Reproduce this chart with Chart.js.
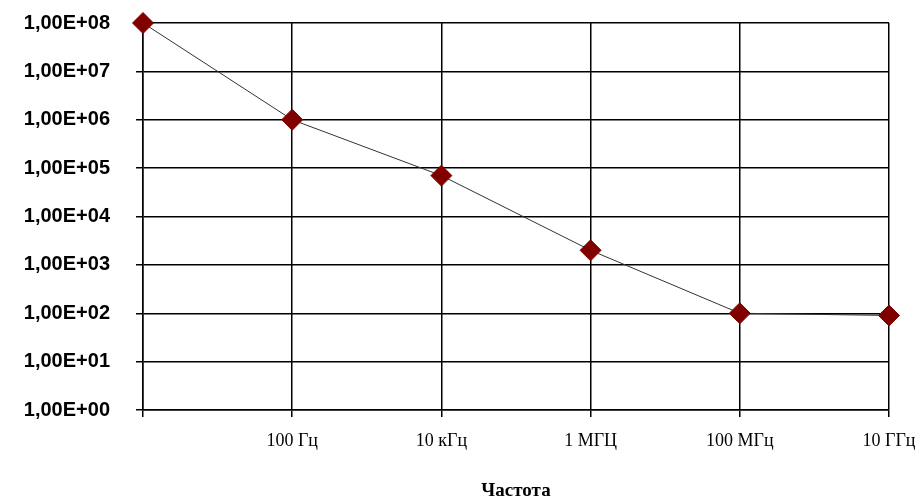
<!DOCTYPE html>
<html>
<head>
<meta charset="utf-8">
<script src="https://cdn.jsdelivr.net/npm/chart.js@4"></script>
<style>
  html, body { margin: 0; padding: 0; background: #fff; }
  #wrap { width: 922px; height: 502px; }
</style>
</head>
<body>
<div id="wrap"><canvas id="freq-chart"></canvas></div>
<script>
// Frequency categories (first point has no label)
const frequencyLabels = ['', '100 Гц', '10 кГц', '1 МГЦ', '100 МГц', '10 ГГц'];
// Values
const seriesValues = [1e8, 1e6, 7e4, 2e3, 1e2, 9e1];
// Decade ticks and their labels
const yTickValues = [1, 1e1, 1e2, 1e3, 1e4, 1e5, 1e6, 1e7, 1e8];
const yTickLabels = ['1,00E+00', '1,00E+01', '1,00E+02', '1,00E+03', '1,00E+04',
                     '1,00E+05', '1,00E+06', '1,00E+07', '1,00E+08'];
const xTitle = 'Частота';

Chart.defaults.color = '#000';

const ctx = document.getElementById('freq-chart');
new Chart(ctx, {
    type: 'line',
    data: {
        labels: frequencyLabels,
        datasets: [{
            data: seriesValues,
            borderColor: '#333',
            borderWidth: 1,
            tension: 0,
            pointStyle: 'rectRot',
            pointRadius: 10.5,
            pointHoverRadius: 10.5,
            pointBackgroundColor: '#800000',
            pointBorderColor: '#800000',
            pointBorderWidth: 1,
            clip: false
        }]
    },
    options: {
        responsive: true,
        maintainAspectRatio: false,
        animation: false,
        layout: { autoPadding: false, padding: { top: 23, right: 33, left: 0, bottom: 0 } },
        plugins: {
            legend: { display: false },
            tooltip: { enabled: false }
        },
        scales: {
            x: {
                type: 'category',
                offset: false,
                grid: { color: '#000', lineWidth: 1.5, tickLength: 7 },
                border: { color: '#000', width: 1.5 },
                ticks: {
                    maxRotation: 0,
                    autoSkip: false,
                    padding: 13,
                    font: { family: '"Liberation Serif", "Times New Roman", serif', size: 18 }
                },
                title: {
                    display: true,
                    text: xTitle,
                    padding: { top: 0, bottom: 1 },
                    font: { family: '"Liberation Serif", "Times New Roman", serif', size: 19, weight: 'bold', lineHeight: 1 }
                },
                afterFit: function(scale) {
                    scale.height = 92;
                    scale.paddingLeft = 0;
                    scale.paddingRight = 0;
                }
            },
            y: {
                type: 'logarithmic',
                min: 1,
                max: 1e8,
                grid: { color: '#000', lineWidth: 1.5, tickLength: 7 },
                border: { color: '#000', width: 1.5 },
                afterBuildTicks: function(scale) {
                    scale.ticks = yTickValues.map(function(v) { return { value: v }; });
                },
                ticks: {
                    padding: 26,
                    font: { family: '"Liberation Sans", Arial, sans-serif', size: 20, weight: 'bold' },
                    callback: function(value) {
                        const i = yTickValues.indexOf(value);
                        return i >= 0 ? yTickLabels[i] : '';
                    }
                },
                afterFit: function(scale) {
                    scale.width = 143;
                    scale.paddingTop = 0;
                    scale.paddingBottom = 0;
                }
            }
        }
    }
});
</script>
</body>
</html>
